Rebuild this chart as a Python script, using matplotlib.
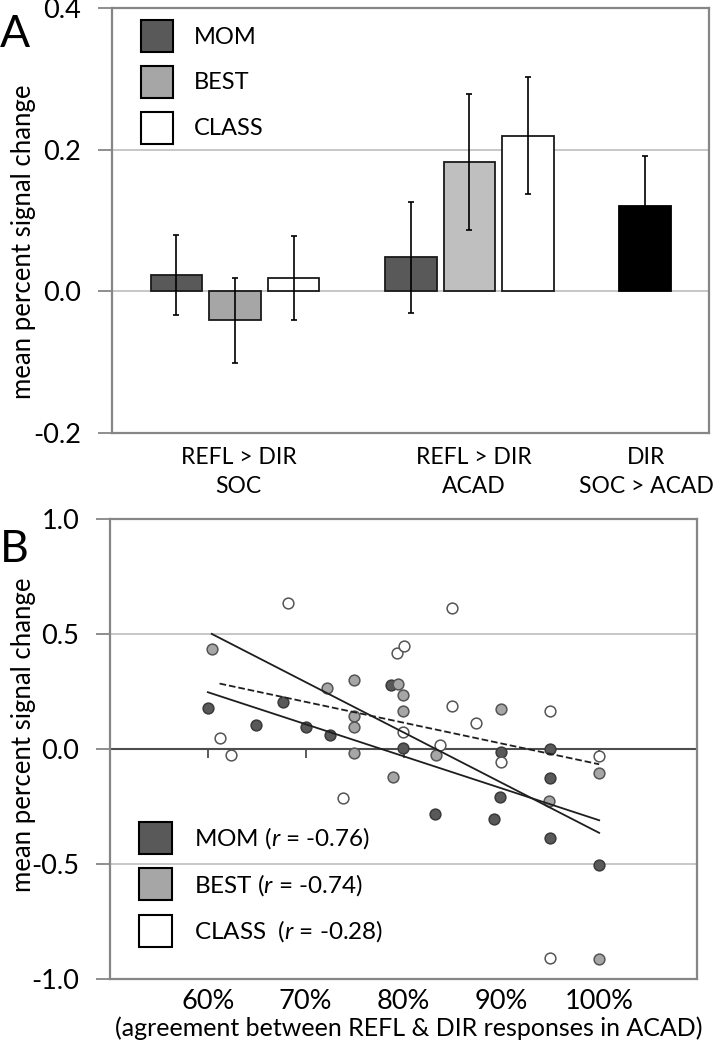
import numpy as np
import matplotlib
matplotlib.use("Agg")
import matplotlib.pyplot as plt
from matplotlib.patches import Patch

plt.rcParams['font.family'] = ['Lato', 'DejaVu Sans']
plt.rcParams['mathtext.fontset'] = 'custom'
plt.rcParams['mathtext.rm'] = 'Lato'
plt.rcParams['mathtext.it'] = 'Lato:italic'
plt.rcParams['axes.unicode_minus'] = False

# ---- panel A data ----
groups = ["MOM", "BEST", "CLASS"]
contrasts = ["REFL > DIR\nSOC", "REFL > DIR\nACAD", "DIR\nSOC > ACAD"]
soc_mean = [0.023, -0.041, 0.019]
soc_err = [0.057, 0.060, 0.059]
acad_mean = [0.048, 0.182, 0.220]
acad_err = [0.078, 0.096, 0.083]
dir_mean = [0.121]
dir_err = [0.070]

# ---- panel B data (agreement, signal change) ----
mom_x = [0.600, 0.649, 0.677, 0.700, 0.725, 0.787, 0.799, 0.832, 0.893, 0.900,
         0.899, 0.950, 0.950, 0.950, 1.000]
mom_y = [0.177, 0.103, 0.206, 0.094, 0.061, 0.278, 0.003, -0.283, -0.305, -0.015,
         -0.210, 0.000, -0.124, -0.385, -0.505]
best_x = [0.604, 0.722, 0.749, 0.749, 0.749, 0.749, 0.789, 0.794, 0.799, 0.799,
          0.833, 0.900, 0.949, 1.000, 1.000]
best_y = [0.435, 0.264, 0.300, 0.143, 0.094, -0.019, -0.120, 0.283, 0.236, 0.164,
          -0.026, 0.173, -0.228, -0.106, -0.913]
class_x = [0.682, 0.612, 0.624, 0.738, 0.793, 0.800, 0.799, 0.837, 0.850, 0.850,
           0.874, 0.900, 0.950, 1.000, 0.950]
class_y = [0.633, 0.046, -0.026, -0.211, 0.419, 0.448, 0.073, 0.019, 0.614, 0.187,
           0.112, -0.055, 0.164, -0.030, -0.910]
r_values = ["-0.76", "-0.74", "-0.28"]
pct_ticks = [0.6, 0.7, 0.8, 0.9, 1.0]

dark = "#595959"
grey_soc = "#a6a6a6"
grey_acad = "#bfbfbf"
grid_c = "#bdbdbd"
spine_c = "#868686"
TICK_FS = 19.5
LAB_FS = 18.5

fig = plt.figure(figsize=(7.23, 10.5), dpi=100)
axA = fig.add_axes([112 / 723, 1 - 433 / 1050, 597 / 723, 425 / 1050])
axB = fig.add_axes([110 / 723, 1 - 979 / 1050, 587 / 723, 460 / 1050])

# ---------------- panel A ----------------
w = 0.88
soc_pos = np.array([0, 1, 2]) + 1.1
acad_pos = np.array([4, 5, 6]) + 1.1
dir_pos = np.array([8]) + 1.1
colors_soc = [dark, grey_soc, "white"]
colors_acad = [dark, grey_acad, "white"]

axA.bar(soc_pos, soc_mean, w, color=colors_soc, edgecolor="#1a1a1a", lw=1.3, zorder=3)
axA.bar(acad_pos, acad_mean, w, color=colors_acad, edgecolor="#1a1a1a", lw=1.3, zorder=3)
axA.bar(dir_pos, dir_mean, w, color="black", edgecolor="black", lw=1.3, zorder=3)
for pos, m, e in [(soc_pos, soc_mean, soc_err), (acad_pos, acad_mean, acad_err),
                  (dir_pos, dir_mean, dir_err)]:
    axA.errorbar(pos, m, yerr=e, fmt="none", ecolor="black", elinewidth=1.2,
                 capsize=2.5, capthick=1.2, zorder=4)

axA.set_xlim(0, 10.19)
axA.set_ylim(-0.2, 0.4)
axA.set_yticks([-0.2, 0.0, 0.2, 0.4])
axA.set_yticklabels(["%.1f" % v for v in [-0.2, 0.0, 0.2, 0.4]])
axA.set_xticks([2.16, 6.18, 9.12])
axA.set_xticklabels(contrasts)
for lbl in axA.get_xticklabels():
    lbl.set_linespacing(1.5)
axA.tick_params(axis="x", length=0, pad=10, labelsize=16.5)
axA.tick_params(axis="y", length=10, width=1.3, color=spine_c, pad=12, labelsize=TICK_FS)
axA.yaxis.grid(True, color=grid_c, lw=1.2, zorder=0)
axA.set_axisbelow(True)
for s in axA.spines.values():
    s.set_color(spine_c)
    s.set_linewidth(1.6)
axA.set_ylabel("mean percent signal change", fontsize=LAB_FS, va="center")
axA.yaxis.set_label_coords(-0.149, 0.45)

handlesA = [Patch(facecolor=c, edgecolor="black", lw=1.5)
            for c in [dark, grey_soc, "white"]]
axA.legend(handlesA, groups, loc="upper left", bbox_to_anchor=(0.048, 0.972),
           frameon=False, fontsize=17, handlelength=1.355, handleheight=1.705,
           labelspacing=0.59, handletextpad=0.9, borderpad=0, borderaxespad=0)

# ---------------- panel B ----------------
series = [(mom_x, mom_y, dark, "#3a3a3a", "-"),
          (best_x, best_y, grey_soc, "#555555", "-"),
          (class_x, class_y, "white", "#555555", "--")]
for xs, ys, fc, ec, ls in series:
    axB.scatter(xs, ys, s=60, c=fc, edgecolors=ec, linewidths=1.1, zorder=3)
for xs, ys, fc, ec, ls in series:
    xs = np.array(xs)
    k, b = np.polyfit(xs, ys, 1)
    xx = np.array([xs.min(), xs.max()])
    axB.plot(xx, k * xx + b, color="#1e1e1e", lw=1.3, ls=ls, zorder=4)

axB.set_xlim(0.5, 1.1)
axB.set_ylim(-1.0, 1.0)
axB.set_yticks([-1.0, -0.5, 0.0, 0.5, 1.0])
axB.set_yticklabels(["%.1f" % v for v in [-1.0, -0.5, 0.0, 0.5, 1.0]])
axB.set_xticks(pct_ticks)
axB.set_xticklabels(["%d%%" % round(v * 100) for v in pct_ticks])
axB.tick_params(axis="x", length=0, pad=7, labelsize=TICK_FS)
axB.tick_params(axis="y", length=10, width=1.3, color=spine_c, pad=12, labelsize=TICK_FS)
for yv in [-0.5, 0.5]:
    axB.axhline(yv, color=grid_c, lw=1.2, zorder=0)
axB.axhline(0, color="#4d4d4d", lw=1.5, zorder=1)
axB.vlines(pct_ticks, -0.04, 0, color="#4d4d4d", lw=1.3, zorder=1)
for s in axB.spines.values():
    s.set_color(spine_c)
    s.set_linewidth(1.6)
axB.set_ylabel("mean percent signal change", fontsize=LAB_FS, va="center")
axB.yaxis.set_label_coords(-0.148, 0.53)
axB.set_xlabel("(agreement between REFL & DIR responses in ACAD)", fontsize=18)
axB.xaxis.label.set_va("center")
axB.xaxis.set_label_coords(0.509, -0.1065)

labelsB = ["MOM ($\\mathit{r}$ = %s)" % r_values[0],
           "BEST ($\\mathit{r}$ = %s)" % r_values[1],
           "CLASS  ($\\mathit{r}$ = %s)" % r_values[2]]
handlesB = [Patch(facecolor=c, edgecolor="black", lw=1.5)
            for c in [dark, grey_soc, "white"]]
axB.legend(handlesB, labelsB, loc="upper left", bbox_to_anchor=(0.049, 0.342),
           frameon=False, fontsize=17.5, handlelength=1.36, handleheight=1.645,
           labelspacing=0.6, handletextpad=0.9, borderpad=0, borderaxespad=0)

fig.text(0.0, 1 - 47 / 1050, "A", fontsize=32, ha="left", va="baseline")
fig.text(0.0, 1 - 562 / 1050, "B", fontsize=32, ha="left", va="baseline")

fig.savefig("out.png", dpi=100)
